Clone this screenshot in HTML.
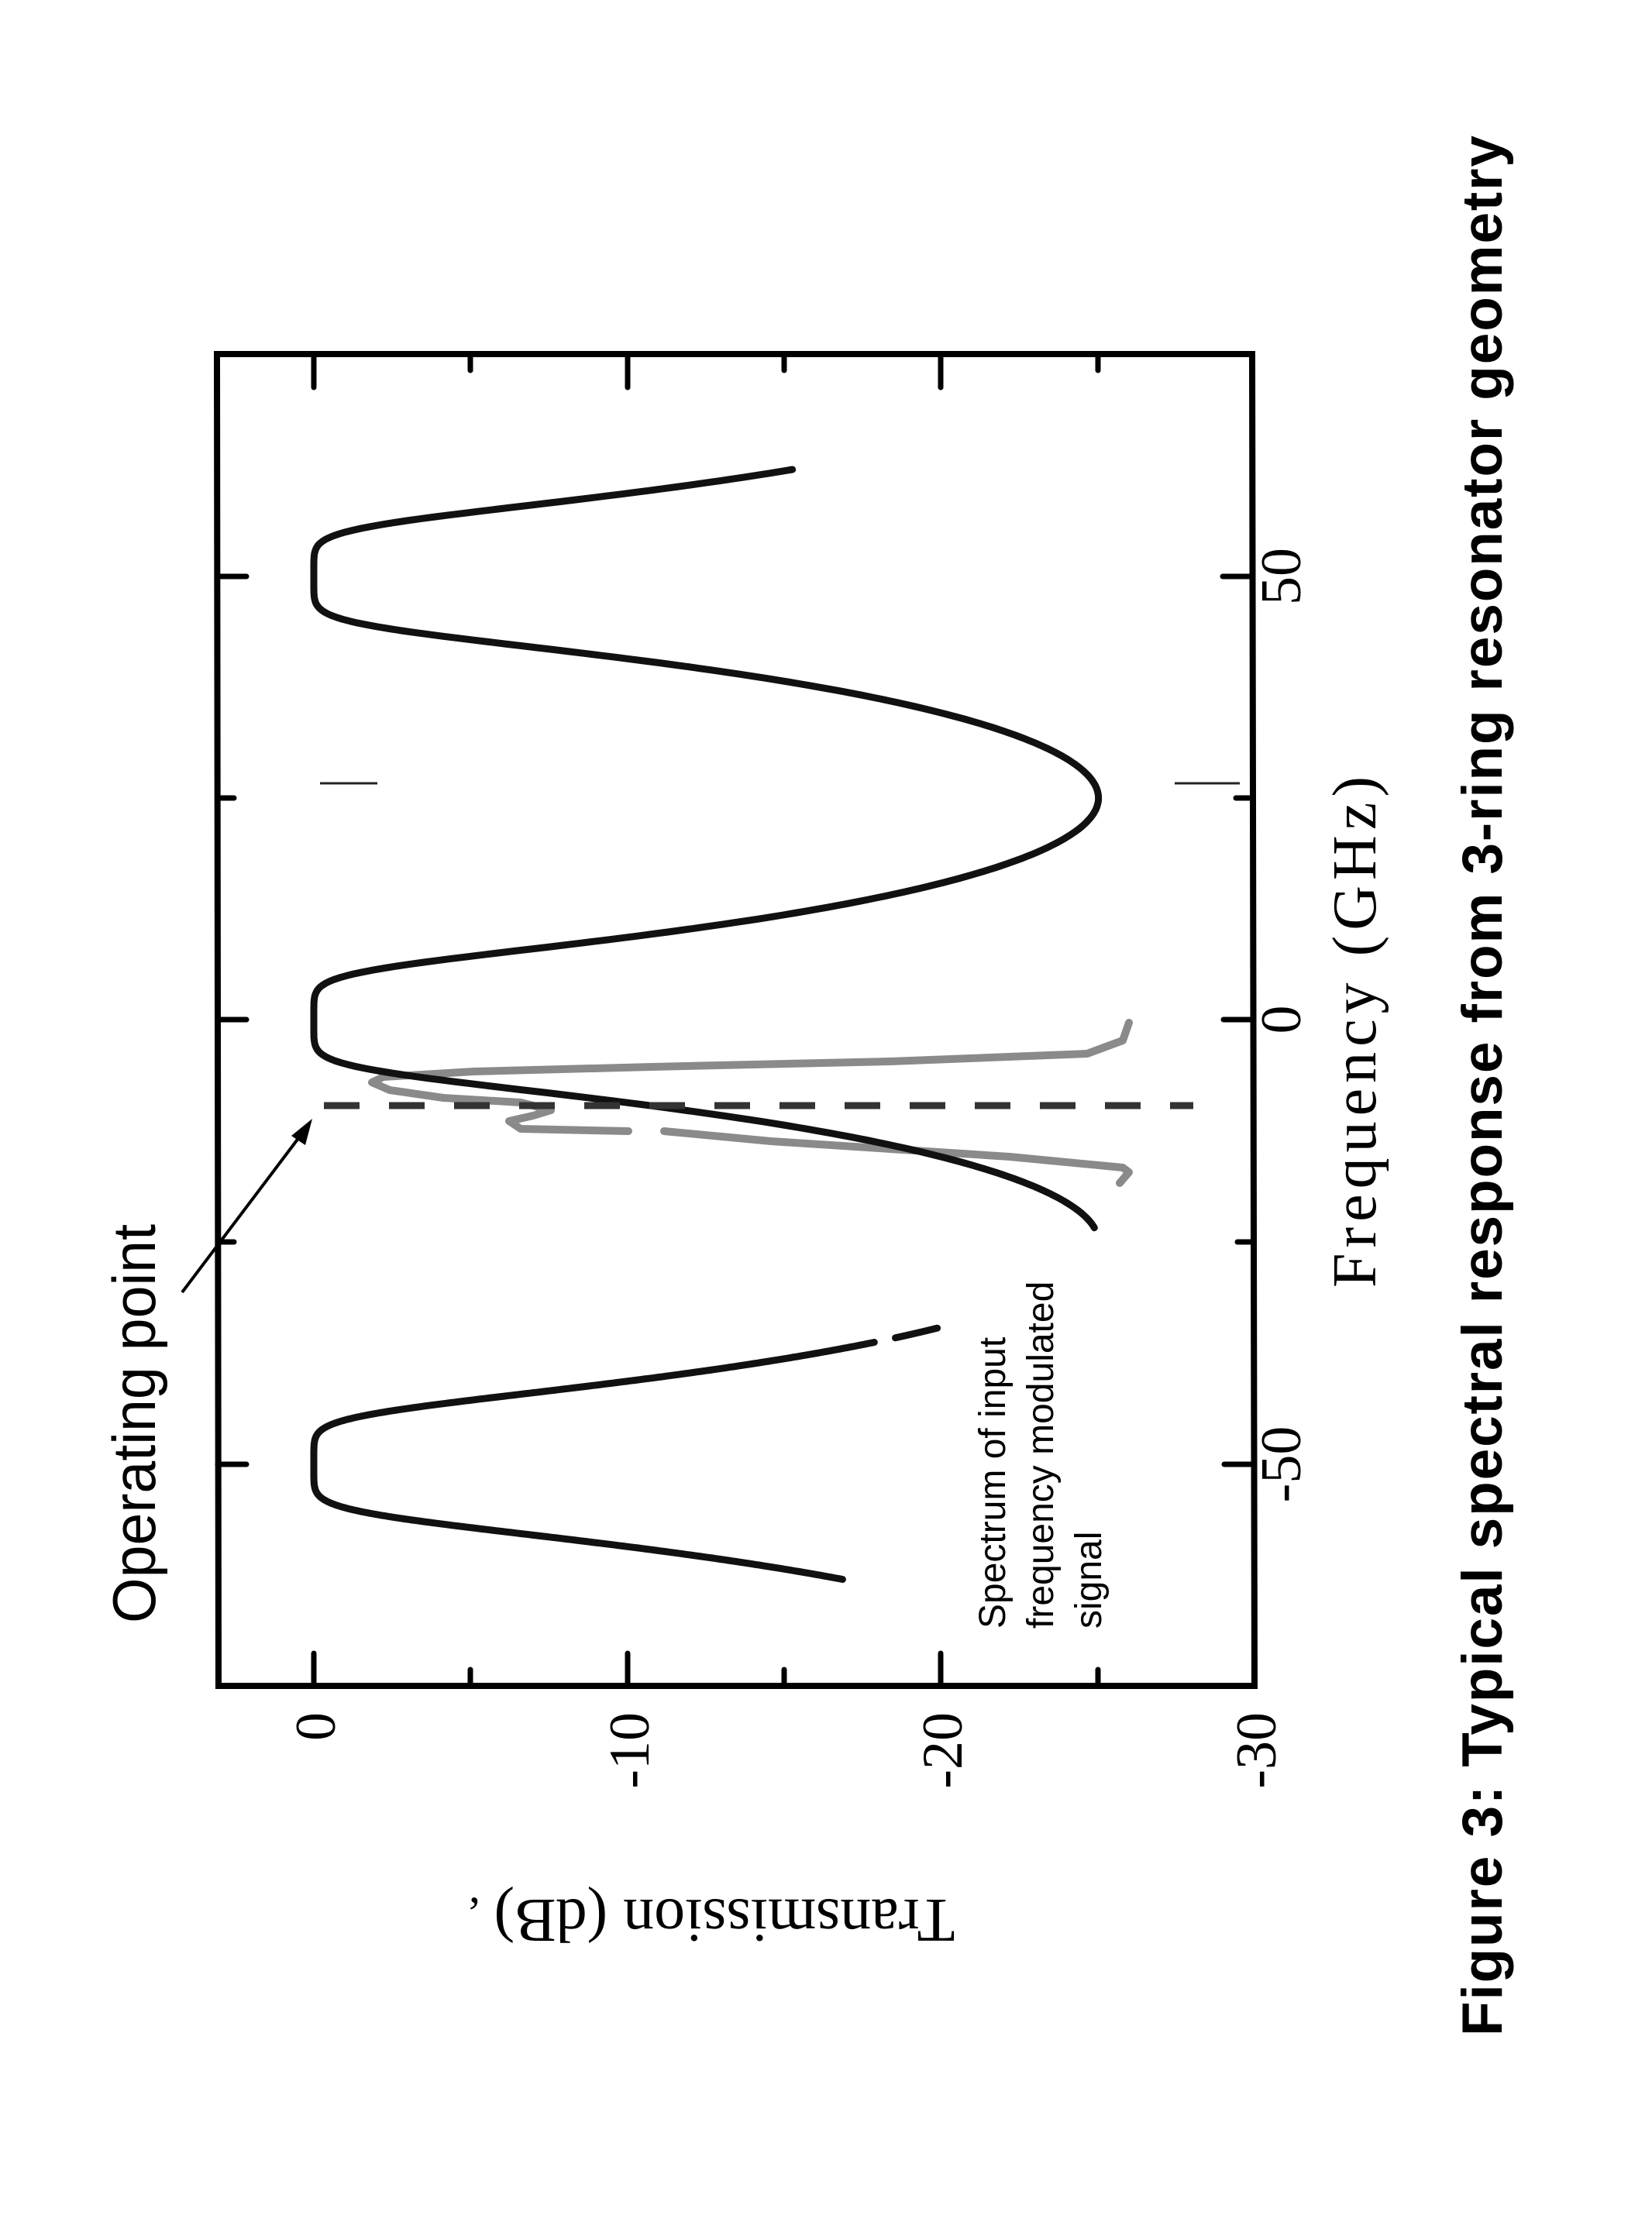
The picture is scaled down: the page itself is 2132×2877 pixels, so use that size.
<!DOCTYPE html>
<html><head><meta charset="utf-8"><style>
html,body{margin:0;padding:0;background:#fff}
svg{display:block}
</style></head><body>
<svg id="s" width="2132" height="2877" viewBox="0 0 2132 2877" xmlns="http://www.w3.org/2000/svg">
<rect width="2132" height="2877" fill="#fff"/>
<g id="curves"></g>
<path d="M280,457 L1616,457 L1619,2176 L282,2176 Z" fill="none" stroke="#000" stroke-width="8"/>
<g stroke="#000" stroke-width="7" stroke-linecap="round">
<line x1="405" y1="457" x2="405" y2="500"/><line x1="607" y1="457" x2="607" y2="478"/>
<line x1="810" y1="457" x2="810" y2="500"/><line x1="1012" y1="457" x2="1012" y2="478"/>
<line x1="1214" y1="457" x2="1214" y2="500"/><line x1="1417" y1="457" x2="1417" y2="478"/>
<line x1="405" y1="2176" x2="405" y2="2134"/><line x1="607" y1="2176" x2="607" y2="2155"/>
<line x1="810" y1="2176" x2="810" y2="2134"/><line x1="1012" y1="2176" x2="1012" y2="2155"/>
<line x1="1214" y1="2176" x2="1214" y2="2134"/><line x1="1417" y1="2176" x2="1417" y2="2155"/>
<line x1="281" y1="744" x2="318" y2="744"/><line x1="281" y1="1030" x2="302" y2="1030"/>
<line x1="281" y1="1316" x2="318" y2="1316"/><line x1="281" y1="1603" x2="302" y2="1603"/>
<line x1="281" y1="1890" x2="318" y2="1890"/>
<line x1="1616" y1="744" x2="1578" y2="744"/><line x1="1616" y1="1030" x2="1595" y2="1030"/>
<line x1="1617" y1="1316" x2="1579" y2="1316"/><line x1="1618" y1="1603" x2="1597" y2="1603"/>
<line x1="1618" y1="1890" x2="1580" y2="1890"/>
</g>
<line x1="413" y1="1011" x2="487" y2="1011" stroke="#222" stroke-width="3"/>
<line x1="1516" y1="1011" x2="1600" y2="1011" stroke="#222" stroke-width="3"/>
<line x1="418" y1="1427" x2="1540" y2="1427" stroke="#333" stroke-width="9" stroke-dasharray="46 38"/>
<line x1="235" y1="1668" x2="392" y2="1460" stroke="#000" stroke-width="4"/>
<polygon points="403,1444 376,1466 394,1478" fill="#000"/>
<g font-family="Liberation Serif, serif" font-size="74" fill="#000">
<text transform="translate(432,2210) rotate(-90)" text-anchor="end">0</text>
<text transform="translate(837,2210) rotate(-90)" text-anchor="end">-10</text>
<text transform="translate(1241,2210) rotate(-90)" text-anchor="end">-20</text>
<text transform="translate(1646,2210) rotate(-90)" text-anchor="end">-30</text>
<text transform="translate(1678,744) rotate(-90)" text-anchor="middle">50</text>
<text transform="translate(1678,1316) rotate(-90)" text-anchor="middle">0</text>
<text transform="translate(1678,1890) rotate(-90)" text-anchor="middle">-50</text>
</g>
<text transform="translate(1775,1332) rotate(-90)" text-anchor="middle" font-family="Liberation Serif, serif" font-size="80" textLength="660" lengthAdjust="spacing">Frequency  (GHz)</text>
<text transform="translate(935,2480) rotate(180)" text-anchor="middle" font-family="Liberation Serif, serif" font-size="80" dy="28">Transmission (dB)</text>
<text x="605" y="2455" font-family="Liberation Serif, serif" font-size="60">,</text>
<g font-family="Liberation Sans, sans-serif" fill="#000">
<text transform="translate(200,2095) rotate(-90)" font-size="78" textLength="515" lengthAdjust="spacingAndGlyphs">Operating point</text>
<text transform="translate(1297,2102) rotate(-90)" font-size="48">Spectrum of input</text>
<text transform="translate(1359,2102) rotate(-90)" font-size="48">frequency modulated</text>
<text transform="translate(1421,2102) rotate(-90)" font-size="48">signal</text>
<text transform="translate(1938,2628) rotate(-90)" font-size="73" font-weight="bold" textLength="2453" lengthAdjust="spacing">Figure 3: Typical spectral response from 3-ring resonator geometry</text>
</g>
</svg>
<script>
(function(){
var X=function(db){return 405-db*40.47;};
var Y=function(f){return 1316.5-f*11.46;};
function db(f){var u=Math.abs(Math.sin(Math.PI*f/50))/0.383;return -10*Math.log10(1+Math.pow(u,6));}
function seg(a,b){var d='';var n=400;for(var i=0;i<=n;i++){var f=a+(b-a)*i/n;d+=(i?'L':'M')+X(db(f)).toFixed(1)+','+Y(f).toFixed(1);}return d;}
var g=document.getElementById('curves');
var ns='http://www.w3.org/2000/svg';
function p(d,c,w){var e=document.createElementNS(ns,'path');e.setAttribute('d',d);e.setAttribute('fill','none');e.setAttribute('stroke',c);e.setAttribute('stroke-width',w);e.setAttribute('stroke-linejoin','round');e.setAttribute('stroke-linecap','round');g.appendChild(e);}
var gp=[[1457,1320],[1449,1343],[1403,1360],[1149,1370],[842,1377],[611,1383],[495,1390],[480,1397],[503,1407],[572,1417],[672,1423],[711,1433],[688,1440],[657,1447],[672,1457],[811,1460]];
var d='';gp.forEach(function(q,i){d+=(i?'L':'M')+q[0]+','+q[1];});
p(d,'#8a8a8a',10);
var gp2=[[857,1460],[995,1473],[1149,1483],[1303,1493],[1449,1507],[1457,1513],[1445,1527]];
d='';gp2.forEach(function(q,i){d+=(i?'L':'M')+q[0]+','+q[1];});
p(d,'#8a8a8a',10);
p(seg(62,-23.4),'#111',9);
p(seg(-34.7,-35.8),'#111',9);
p(seg(-36.3,-63),'#111',9);
})();
</script>
</body></html>
